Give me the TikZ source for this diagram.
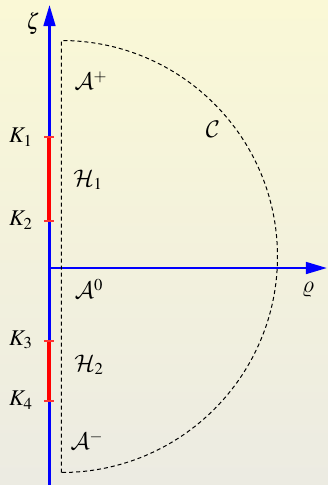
\documentclass[tikz,border=0pt]{standalone}
\usepackage{amsmath}
\usepackage{mathptmx}
\DeclareMathAlphabet{\mathcal}{OMS}{cmsy}{m}{n}
\DeclareSymbolFont{cmletters}{OML}{cmm}{m}{it}
\DeclareMathSymbol{\cmvarrho}{\mathord}{cmletters}{"25}
\usepackage{tikz}
\usetikzlibrary{arrows.meta, positioning}
\usepackage{xcolor}
\definecolor{bgtop}{RGB}{250,248,214}
\definecolor{bgbottom}{RGB}{236,235,226}
\definecolor{axisblue}{RGB}{0,0,255}
\definecolor{cutred}{RGB}{255,0,0}
\tikzstyle{axis} = [-{Triangle[length=12.6pt, width=7pt]}, line width=1.5pt, color=axisblue]
\tikzstyle{cut} = [line width=2.4pt, color=cutred]
\tikzstyle{tick} = [line width=0.9pt, color=cutred!80]
\tikzstyle{contour} = [line width=0.6pt, dash pattern=on 2.4pt off 1.8pt]
\tikzstyle{lbl} = [inner sep=0pt, font=\fontsize{13.5}{16}\selectfont]

\begin{document}
\begin{tikzpicture}[x=0.6pt, y=-0.6pt]
  % background
  \shade[top color=bgtop, bottom color=bgbottom] (0,0) rectangle (328,485);
  \useasboundingbox (0,0) rectangle (328,485);

  % axes
  \coordinate (zbot) at (49.5,485);
  \coordinate (ztop) at (49.5,5);
  \coordinate (O) at (49.5,268);
  \coordinate (rtip) at (327,268);
  \draw[axis] (zbot) -- (ztop);
  \draw[axis] (O) -- (rtip);
  \node[lbl] (zeta) at (33,23) {$\zeta$};
  \node[lbl] (rho) at (308,290) {$\cmvarrho$};

  % cuts on the axis
  \coordinate (k1) at (49.5,137);
  \coordinate (k2) at (49.5,221);
  \coordinate (k3) at (49.5,341);
  \coordinate (k4) at (49.5,401);
  \draw[cut] (k1) -- (k2);
  \draw[cut] (k3) -- (k4);
  \foreach \k in {k1,k2,k3,k4}
    \draw[tick] ([xshift=-3pt]\k) -- ([xshift=3pt]\k);
  \node[lbl] (K1) at (21,137) {$K_1$};
  \node[lbl] (K2) at (21,220) {$K_2$};
  \node[lbl] (K3) at (21,340) {$K_3$};
  \node[lbl] (K4) at (21,400) {$K_4$};

  % contour C
  \coordinate (ctop) at (61.5,40.5);
  \coordinate (cbot) at (61.5,472.5);
  \draw[contour] (cbot) -- (ctop) arc[start angle=-90, end angle=90, radius=216];
  \node[lbl] (C) at (213,129) {$\mathcal{C}$};

  % regions
  \node[lbl] (Aplus) at (91,81) {$\mathcal{A}^{+}$};
  \node[lbl] (H1) at (88,180) {$\mathcal{H}_1$};
  \node[lbl] (Azero) at (89,289) {$\mathcal{A}^{0}$};
  \node[lbl] (H2) at (89,365) {$\mathcal{H}_2$};
  \node[lbl] (Aminus) at (87,441) {$\mathcal{A}^{-}$};
\end{tikzpicture}
\end{document}
